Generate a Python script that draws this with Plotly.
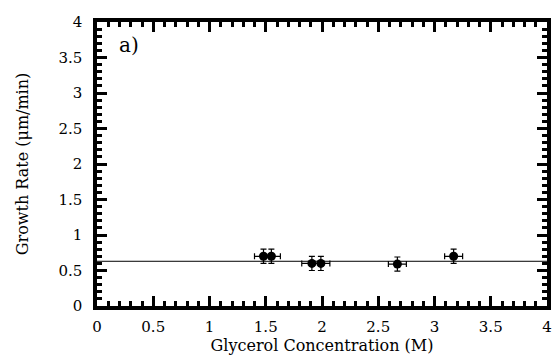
import plotly.graph_objects as go

conc = [1.48, 1.55, 1.91, 1.99, 2.67, 3.17]
rate = [0.70, 0.70, 0.60, 0.60, 0.59, 0.70]
conc_err = [0.08, 0.08, 0.09, 0.08, 0.08, 0.08]
rate_err = [0.10, 0.10, 0.10, 0.10, 0.10, 0.10]
fit_x = [0, 4]
fit_y = [0.63, 0.63]
ticks = [0, 0.5, 1, 1.5, 2, 2.5, 3, 3.5, 4]
tick_text = ["0", "0.5", "1", "1.5", "2", "2.5", "3", "3.5", "4"]

font = "DejaVu Serif"
fig = go.Figure()
fig.add_trace(go.Scatter(x=fit_x, y=fit_y, mode="lines",
                         line=dict(color="black", width=1), showlegend=False))
fig.add_trace(go.Scatter(
    x=conc, y=rate, mode="markers",
    marker=dict(color="black", size=9),
    error_x=dict(type="data", array=conc_err, color="black", thickness=1.2, width=3),
    error_y=dict(type="data", array=rate_err, color="black", thickness=1.2, width=3),
    showlegend=False))

axis_common = dict(
    range=[0, 4], tickmode="array", tickvals=ticks, ticktext=tick_text,
    showgrid=False, zeroline=False, showline=True, linecolor="black", linewidth=3.5,
    mirror="allticks", ticks="inside", ticklen=10, tickwidth=2.5, tickcolor="black",
    minor=dict(dtick=0.1, ticks="inside", ticklen=5, tickwidth=2.5, tickcolor="black"),
    tickfont=dict(family=font, size=15, color="black"),
)
fig.update_xaxes(**axis_common, ticklabelstandoff=4,
                 title=dict(text="Glycerol Concentration (M)", font=dict(family=font, size=16, color="black"), standoff=6))
fig.update_yaxes(**axis_common, ticklabelstandoff=8,
                 title=dict(text="Growth Rate (μm/min)", font=dict(family=font, size=16, color="black"), standoff=27))
fig.add_annotation(text="a)", x=0.045, y=0.92, xref="paper", yref="paper",
                   showarrow=False, xanchor="left", yanchor="middle",
                   font=dict(family=font, size=20, color="black"))
fig.update_layout(width=557, height=358, margin=dict(l=97, r=5, t=22, b=51),
                  plot_bgcolor="white", paper_bgcolor="white")
fig.write_html("out.html")
